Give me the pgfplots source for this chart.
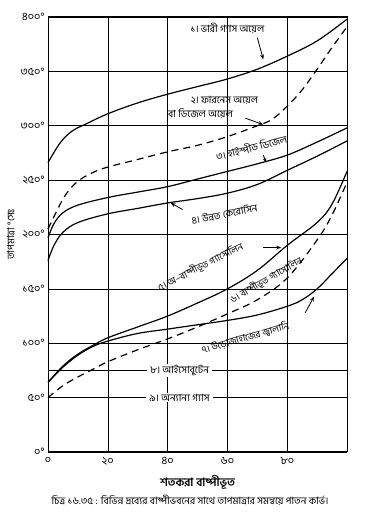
\documentclass[border=0pt]{standalone}
\usepackage{fontspec}
\setmainfont[Script=Bengali]{Hind Siliguri}
\usepackage{pgfplots}
\pgfplotsset{compat=1.18}
\usetikzlibrary{arrows.meta}
\tikzset{crv/.style={black, line width=1.2pt, smooth, tension=0.6, mark=none},
         dcrv/.style={crv, dash pattern=on 7pt off 5pt}}
\begin{document}
\begin{tikzpicture}[x=1pt,y=1pt]
\useasboundingbox (0,0) rectangle (374,529);
\begin{axis}[at={(48pt,77pt)}, anchor=south west, width=299pt, height=435pt, scale only axis,
  xmin=0, xmax=100, ymin=0, ymax=400,
  xtick={0,20,40,60,80,100}, xticklabels={০,২০,৪০,৬০,৮০,},
  ytick={0,50,100,150,200,250,300,350,400},
  yticklabels={০°,৫০°,১০০°,১৫০°,২০০°,২৫০°,৩০০°,৩৫০°,৪০০°},
  grid=major, grid style={black, line width=0.6pt},
  axis line style={line width=1pt},
  major tick length=0pt,
  tick label style={font=\fontsize{11}{12}\selectfont},
  xticklabel style={yshift=-2pt},
  xlabel={শতকরা বাষ্পীভূত}, xlabel style={font=\fontsize{11.5}{13}\selectfont\bfseries, yshift=-3pt},
  ylabel={তাপমাত্রা °সেঃ}, ylabel style={font=\fontsize{10}{11}\selectfont, yshift=-1pt},
  clip=false]
% 1 heavy gas oil
\addplot[crv] coordinates {(0,266) (4,284) (8,295) (13,302) (20,311) (30,321) (40,329) (50,336) (60,343) (70,352) (80,364) (90,378) (100,398)};
% 2 furnace oil / diesel oil
\addplot[dcrv] coordinates {(0,205) (3,222) (6,237) (10,249) (15,257) (20,262) (30,269) (40,276) (50,282) (60,290) (70,300) (75,306) (80,318) (85,333) (90,352) (95,372) (100,391)};
% 3 high speed diesel
\addplot[crv] coordinates {(0,197) (2,210) (5,220) (10,227) (20,234) (30,239) (40,244) (50,251) (60,258) (70,265) (80,273) (90,285) (100,298)};
% 4 kerosene
\addplot[crv] coordinates {(0,176) (2,190) (5,202) (10,211) (20,219) (30,224) (40,229) (50,233) (60,238) (70,246) (80,259) (90,272) (100,286)};
% 5 non-vaporized gasoline
\addplot[crv] coordinates {(0,64) (5,79) (10,90) (15,98) (20,105) (30,115) (40,125) (50,137) (60,150) (70,167) (80,190) (90,211) (95,228) (100,258)};
% 6 vaporized gasoline
\addplot[dcrv] coordinates {(0,50) (5,61) (10,69) (15,76) (20,83) (30,94) (40,104) (50,115) (60,127) (70,140) (80,160) (90,195) (95,218) (100,248)};
% 7 aviation fuel
\addplot[crv] coordinates {(0,64) (5,78) (10,89) (15,97) (20,102) (30,109) (40,113) (50,117) (60,121) (70,126) (80,134) (85,140) (90,150) (95,164) (100,178)};
% 8 isobutane
\addplot[black, line width=0.8pt, mark=none] coordinates {(0,75) (100,75)};
% 9 other gases
\addplot[black, line width=0.8pt, mark=none] coordinates {(0,50) (100,50)};

\begin{scope}[every node/.style={font=\fontsize{10}{11}\selectfont, inner sep=1pt}]
\node at (axis cs:60,390) {১। ভারী গ্যাস অয়েল};
\draw[-{Stealth[length=5pt]}, line width=0.8pt] (axis cs:70,381) -- (axis cs:72,361);
\node at (axis cs:59,323) {২। ফারনেস অয়েল};
\node at (axis cs:51,311) {বা ডিজেল অয়েল};
\draw[-{Stealth[length=5pt]}, line width=0.8pt] (axis cs:66,307) -- (axis cs:72,301);
\node[rotate=14] at (axis cs:68,280) {৩। হাইস্পীড ডিজেল};
\draw[-{Stealth[length=5pt]}, line width=0.8pt] (axis cs:72,273) -- (axis cs:73,266);
\node[rotate=11] at (axis cs:59,219) {৪। উন্নত কেরোসিন};
\draw[-{Stealth[length=5pt]}, line width=0.8pt] (axis cs:45,223) -- (axis cs:41,229);
\node[rotate=27, font=\fontsize{9.5}{11}\selectfont] at (axis cs:51,170) {৫। অ–বাষ্পীভূত গ্যাসোলিন};
\draw[-{Stealth[length=5pt]}, line width=0.8pt] (axis cs:72,188) -- (axis cs:78,188);
\node[rotate=30, font=\fontsize{9.5}{11}\selectfont] at (axis cs:73,158) {৬। বাষ্পীভূত গ্যাসোলিন};
\node[rotate=16, font=\fontsize{9.5}{11}\selectfont] at (axis cs:66,105) {৭। উড়োজাহাজের জ্বালানি};
\draw[-{Stealth[length=5pt]}, line width=0.8pt] (axis cs:86,128) -- (axis cs:89,143);
\node[fill=white, inner xsep=3pt] at (axis cs:44,75) {৮। আইসোবুটেন};
\node[fill=white, inner xsep=3pt] at (axis cs:44,50) {৯। অন্যান্য গ্যাস};
\end{scope}
\end{axis}
\node[font=\fontsize{10}{11}\selectfont] at (190,29) {চিত্র ১৬.৩৫ : বিভিন্ন দ্রব্যের বাষ্পীভবনের সাথে তাপমাত্রার সমন্বয়ে পাতন কার্ভ।};
\end{tikzpicture}
\end{document}
